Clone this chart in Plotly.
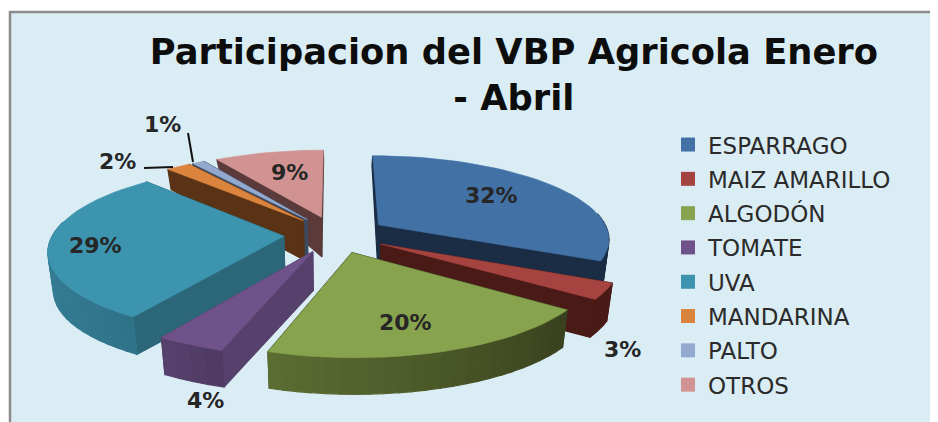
import math
import plotly.graph_objects as go

# ---- data ----
categories = ["ESPARRAGO", "MAIZ AMARILLO", "ALGODÓN", "TOMATE", "UVA", "MANDARINA", "PALTO", "OTROS"]
values = [32, 3, 20, 4, 29, 2, 1, 9]
top_colors = ["#4271a6", "#a54340", "#87a34e", "#6f5289", "#3d94ae", "#db843d", "#93a9cf", "#d19392"]
wall_start = ["#1a2d45", "#491a16", "#38401e", "#4f3a62", "#2f7389", "#5a3316", "#3c4a60", "#5a3a3a"]
wall_end = ["#1a2d45", "#491a16", "#5c6e32", "#57416e", "#3f8ca7", "#5a3316", "#3c4a60", "#5a3a3a"]
radial_colors = ["#1a2d45", "#491a16", "#38401e", "#56416c", "#2c6779", "#5a3316", "#3c4a60", "#5a3a3a"]
paint_order = [7, 6, 5, 0, 1, 4, 3, 2]
title_text = "Participacion del VBP Agricola Enero<br>- Abril"

# ---- projection of the exploded 3-D pie onto pixel axes ----
CX, CY, A, B, K, EXPLODE, SHRINK = 335.5, 234.5, 231.0, 82.5, 0.155, 0.224, 0.98
FONT = "DejaVu Sans"


def project(u, v, bottom=False):
    w = 1 + K * v
    s = SHRINK if bottom else 1.0
    x = CX + A * s * u / w
    y = CY - B * s * v / w
    if bottom:
        t = min(1.0, max(0.0, (v - 0.3) / 0.75))
        y += 39 - 31 * t * t
    return x, y


def hex_mix(a, b, t):
    ca = [int(a[i:i + 2], 16) for i in (1, 3, 5)]
    cb = [int(b[i:i + 2], 16) for i in (1, 3, 5)]
    return "#" + "".join(f"{round(p + (q - p) * t):02x}" for p, q in zip(ca, cb))


def polygon(points, color, lw=0.6):
    xs = [p[0] for p in points] + [points[0][0]]
    ys = [p[1] for p in points] + [points[0][1]]
    return go.Scatter(x=xs, y=ys, mode="lines", fill="toself", fillcolor=color,
                      line=dict(color=color, width=lw), hoverinfo="skip", showlegend=False)


fig = go.Figure()

# legend entries
for name, color in zip(categories, top_colors):
    fig.add_trace(go.Scatter(x=[None], y=[None], mode="markers", name=name, legendgroup=name,
                             marker=dict(symbol="square", size=14, color=color)))

total = sum(values)
starts = []
acc = 0
for val in values:
    starts.append(acc)
    acc += val

for i in paint_order:
    a0 = starts[i] / total * 2 * math.pi
    a1 = (starts[i] + values[i]) / total * 2 * math.pi
    mid = (a0 + a1) / 2
    ou, ov = EXPLODE * math.sin(mid), EXPLODE * math.cos(mid)
    n = max(3, int(values[i] * 1.2))
    rim = []
    for j in range(n + 1):
        a = a0 + (a1 - a0) * j / n
        rim.append((ou + math.sin(a), ov + math.cos(a)))
    walls = []
    for j in range(n):
        am = a0 + (a1 - a0) * (j + 0.5) / n
        if math.cos(am) > 0.15:  # the rear part of the rim faces away from the viewer
            continue
        (u0, v0), (u1, v1) = rim[j], rim[j + 1]
        quad = [project(u0, v0), project(u1, v1), project(u1, v1, True), project(u0, v0, True)]
        color = hex_mix(wall_start[i], wall_end[i], (j + 0.5) / n)
        walls.append(((quad[0][1] + quad[1][1]) / 2, quad, color))
    for (u0, v0) in (rim[0], rim[-1]):
        quad = [project(ou, ov), project(u0, v0), project(u0, v0, True), project(ou, ov, True)]
        walls.append(((quad[0][1] + quad[1][1]) / 2, quad, radial_colors[i]))
    for _, quad, color in sorted(walls, key=lambda w: w[0]):
        fig.add_trace(polygon(quad, color, 1.2))
    fig.add_trace(polygon([project(ou, ov)] + [project(u, v) for u, v in rim], top_colors[i]))

# percentage labels
label_pos = [(491, 195), (622, 349), (405, 322), (205, 400), (95, 245), (117, 161), (162, 124), (289, 172)]
for val, (lx, ly) in zip(values, label_pos):
    fig.add_annotation(x=lx, y=ly, xref="x", yref="y", text=f"{val}%", showarrow=False,
                       font=dict(family=FONT, size=22, color="#262626", weight="bold"))

shapes = [
    dict(type="rect", xref="x", yref="y", x0=10, x1=950, y0=12, y1=440, layer="below",
         fillcolor="#dbedf4", line=dict(color="#8c8c8c", width=2.5)),
    dict(type="line", xref="x", yref="y", x0=144, y0=168, x1=173, y1=167, line=dict(color="#111111", width=2)),
    dict(type="line", xref="x", yref="y", x0=188, y0=133, x1=193, y1=162, line=dict(color="#111111", width=2)),
]

# The page body has an 8 px margin; the axes run in window pixels from there.
fig.update_layout(
    width=930, height=414, autosize=False,
    margin=dict(l=0, r=0, t=0, b=0, autoexpand=False),
    paper_bgcolor="#ffffff", plot_bgcolor="rgba(0,0,0,0)",
    xaxis=dict(range=[8, 938], visible=False, fixedrange=True),
    yaxis=dict(range=[422, 8], visible=False, fixedrange=True),
    shapes=shapes,
    title=dict(text=title_text, x=0.544, xanchor="center", y=0.865, yanchor="top",
               font=dict(family=FONT, size=35.3, color="#0d0d0d", weight="bold")),
    legend=dict(x=0.7097, y=0.722, xanchor="left", yanchor="top", bgcolor="rgba(0,0,0,0)",
                font=dict(family=FONT, size=23, color="#2b2b2b"),
                tracegroupgap=1.4, itemclick=False, itemdoubleclick=False),
)

fig.write_html("out.html", config={"displayModeBar": False})
